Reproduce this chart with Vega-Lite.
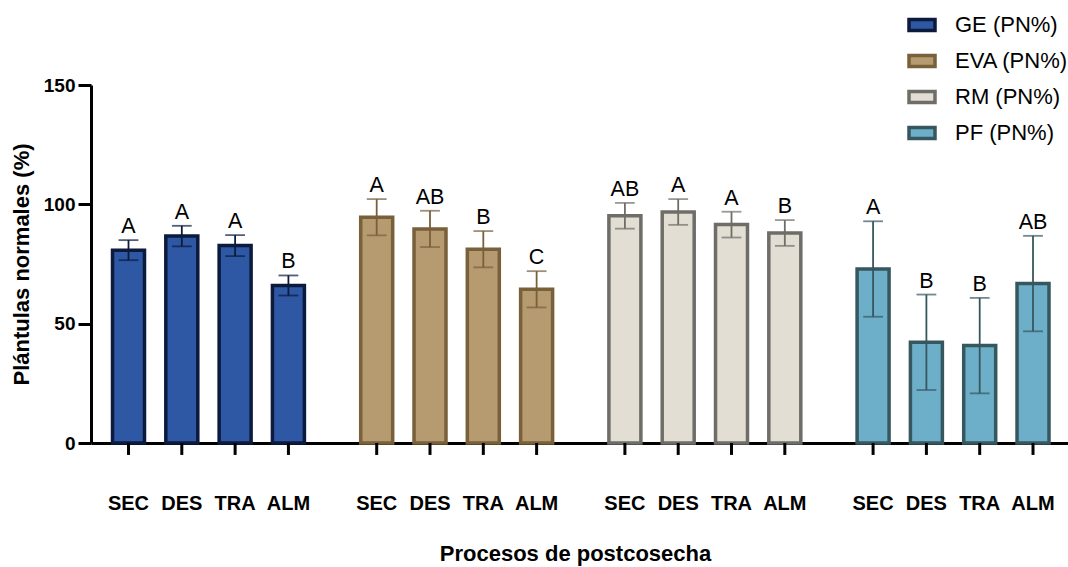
{
  "$schema": "https://vega.github.io/schema/vega-lite/v6.json",
  "width": 977,
  "height": 358,
  "autosize": "none",
  "padding": {"left": 91, "top": 85, "right": 0, "bottom": 124},
  "background": "white",
  "config": {"font": "Liberation Sans", "view": {"stroke": null}},
  "data": {
    "values": [
      {"series": "GE (PN%)", "proc": "SEC", "mean": 80.8, "lo": 76.6, "hi": 85.0, "letra": "A"},
      {"series": "GE (PN%)", "proc": "DES", "mean": 86.7, "lo": 82.4, "hi": 91.0, "letra": "A"},
      {"series": "GE (PN%)", "proc": "TRA", "mean": 82.7, "lo": 78.3, "hi": 87.1, "letra": "A"},
      {"series": "GE (PN%)", "proc": "ALM", "mean": 66.0, "lo": 61.8, "hi": 70.2, "letra": "B"},
      {"series": "EVA (PN%)", "proc": "SEC", "mean": 94.6, "lo": 87.0, "hi": 102.2, "letra": "A"},
      {"series": "EVA (PN%)", "proc": "DES", "mean": 89.7, "lo": 82.1, "hi": 97.3, "letra": "AB"},
      {"series": "EVA (PN%)", "proc": "TRA", "mean": 81.2, "lo": 73.6, "hi": 88.8, "letra": "B"},
      {"series": "EVA (PN%)", "proc": "ALM", "mean": 64.4, "lo": 56.8, "hi": 72.0, "letra": "C"},
      {"series": "RM (PN%)", "proc": "SEC", "mean": 95.2, "lo": 89.8, "hi": 100.6, "letra": "AB"},
      {"series": "RM (PN%)", "proc": "DES", "mean": 96.8, "lo": 91.4, "hi": 102.2, "letra": "A"},
      {"series": "RM (PN%)", "proc": "TRA", "mean": 91.5, "lo": 86.1, "hi": 96.9, "letra": "A"},
      {"series": "RM (PN%)", "proc": "ALM", "mean": 88.0, "lo": 82.6, "hi": 93.4, "letra": "B"},
      {"series": "PF (PN%)", "proc": "SEC", "mean": 72.9, "lo": 52.9, "hi": 92.9, "letra": "A"},
      {"series": "PF (PN%)", "proc": "DES", "mean": 42.2, "lo": 22.2, "hi": 62.2, "letra": "B"},
      {"series": "PF (PN%)", "proc": "TRA", "mean": 40.8, "lo": 20.8, "hi": 60.8, "letra": "B"},
      {"series": "PF (PN%)", "proc": "ALM", "mean": 66.8, "lo": 46.8, "hi": 86.8, "letra": "AB"}
    ]
  },
  "encoding": {
    "x": {
      "field": "series", "type": "nominal",
      "scale": {"type": "band", "domain": ["GE (PN%)", "EVA (PN%)", "RM (PN%)", "PF (PN%)"], "paddingInner": 0.2268, "paddingOuter": 0.0816, "align": 0.531},
      "axis": {"labels": false, "ticks": false, "domain": true, "domainColor": "black", "domainWidth": 3, "title": "Procesos de postcosecha", "titleFontSize": 22, "titleFontWeight": "bold", "titleColor": "black", "titlePadding": 100, "titleX": 484}
    },
    "xOffset": {
      "field": "proc", "type": "nominal",
      "scale": {"domain": ["SEC", "DES", "TRA", "ALM"], "paddingInner": 0.4, "paddingOuter": 0}
    }
  },
  "layer": [
    {
      "mark": {"type": "bar", "strokeWidth": 3.5},
      "encoding": {
        "y": {
          "field": "mean", "type": "quantitative",
          "scale": {"domain": [0, 150], "nice": false, "zero": true},
          "axis": {"values": [0, 50, 100, 150], "grid": false, "domainColor": "black", "domainWidth": 3, "tickColor": "black", "tickWidth": 3, "tickSize": 13, "labelFontSize": 19, "labelFontWeight": "bold", "labelColor": "black", "labelPadding": 3, "title": "Plántulas normales (%)", "titleFontSize": 22, "titleFontWeight": "bold", "titleColor": "black", "titlePadding": 10}
        },
        "fill": {
          "field": "series", "type": "nominal",
          "scale": {"domain": ["GE (PN%)", "EVA (PN%)", "RM (PN%)", "PF (PN%)"], "range": ["#2F58A4", "#B59B6F", "#E3DED3", "#6DAEC8"]},
          "legend": {"title": null, "orient": "none", "legendX": 816, "legendY": -75, "padding": 0, "symbolType": "M-1,-0.43H1V0.43H-1Z", "symbolSize": 676, "symbolStrokeWidth": 3.5, "labelFontSize": 22, "labelColor": "black", "labelOffset": 18, "rowPadding": 8, "labelLimit": 300}
        },
        "stroke": {
          "field": "series", "type": "nominal",
          "scale": {"domain": ["GE (PN%)", "EVA (PN%)", "RM (PN%)", "PF (PN%)"], "range": ["#0B1A3D", "#78603A", "#6E6D68", "#37575F"]},
          "legend": {"title": null, "orient": "none", "legendX": 816, "legendY": -75, "padding": 0, "symbolType": "M-1,-0.43H1V0.43H-1Z", "symbolSize": 676, "symbolStrokeWidth": 3.5, "labelFontSize": 22, "labelColor": "black", "labelOffset": 18, "rowPadding": 8, "labelLimit": 300}
        }
      }
    },
    {
      "mark": {"type": "rule", "strokeWidth": 1.8},
      "encoding": {
        "y": {"field": "lo", "type": "quantitative"},
        "y2": {"field": "hi"},
        "stroke": {"field": "series", "type": "nominal"}
      }
    },
    {
      "mark": {"type": "tick", "orient": "horizontal", "size": 18, "thickness": 0.01, "filled": false, "strokeWidth": 1.8},
      "encoding": {
        "y": {"field": "lo", "type": "quantitative"},
        "stroke": {"field": "series", "type": "nominal"}
      }
    },
    {
      "mark": {"type": "tick", "orient": "horizontal", "size": 18, "thickness": 0.01, "filled": false, "strokeWidth": 1.8},
      "encoding": {
        "y": {"field": "hi", "type": "quantitative"},
        "stroke": {"field": "series", "type": "nominal"}
      }
    },
    {
      "mark": {"type": "rule", "strokeWidth": 3, "color": "black"},
      "encoding": {
        "y": {"datum": 0},
        "y2": {"datum": -5}
      }
    },
    {
      "mark": {"type": "text", "fontSize": 20, "fontWeight": "bold", "color": "black", "baseline": "middle", "dy": 61},
      "encoding": {
        "y": {"datum": 0},
        "text": {"field": "proc"}
      }
    },
    {
      "mark": {"type": "text", "fontSize": 21.5, "color": "black", "baseline": "alphabetic", "dy": -7},
      "encoding": {
        "y": {"field": "hi", "type": "quantitative"},
        "text": {"field": "letra"}
      }
    }
  ]
}
